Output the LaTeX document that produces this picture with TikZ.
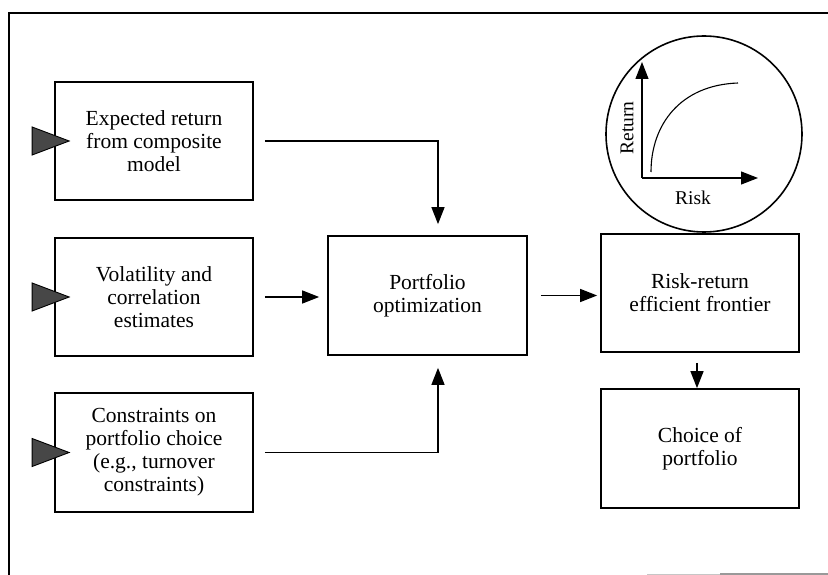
\documentclass[tikz,border=0pt]{standalone}
\usepackage{fontspec}
\setmainfont{Liberation Serif}
\usetikzlibrary{arrows.meta,calc}
\begin{document}
\begin{tikzpicture}[x=1pt,y=-1pt,
  box/.style={draw, line width=1.7pt, inner sep=0pt, align=center,
    minimum width=198pt, minimum height=118pt,
    font=\fontsize{21.5}{23}\selectfont},
  arr/.style={line width=1.3pt, -{Triangle[length=17pt,width=13pt]}},
  axarr/.style={line width=1.2pt, -{Triangle[length=17pt,width=13pt]}},
  intri/.style={draw=black, line width=0.9pt, fill=black!72},
  axlabel/.style={inner sep=0pt, font=\fontsize{19.5}{21}\selectfont},
  frame/.style={line width=1.7pt}]
\useasboundingbox (0,0) rectangle (828,575);

% outer frame (partially visible)
\draw[frame] (9,575) -- (9,13) -- (828,13);
\draw[gray!45, line width=1pt] (647,574) -- (720,574);
\draw[gray!80, line width=1.2pt] (720,574) -- (828,574);

% boxes
\node[box] (b1) at (154,141) {Expected return\\from composite\\model};
\node[box] (b2) at (154,297) {Volatility and\\correlation\\estimates};
\node[box, minimum height=119pt] (b3) at (154,452.5) {Constraints on\\portfolio choice\\(e.g., turnover\\constraints)};
\node[box, minimum width=199pt, minimum height=119pt] (opt) at (427.5,295.5) {Portfolio\\optimization};
\node[box] (eff) at (700,293) {Risk-return\\efficient frontier};
\node[box, minimum height=119pt] (choice) at (700,448.5) {Choice of\\portfolio};

% input triangles
\foreach \b in {b1,b2,b3}{
  \draw[intri] ($(\b.west)+(-22,-14)$) -- ($(\b.west)+(15,0)$) -- ($(\b.west)+(-22,14)$) -- cycle;
}

% connectors
\draw[arr, shorten <=11pt, shorten >=11pt] (b1.east) -| ([xshift=10.5pt]opt.north);
\draw[arr, shorten <=11pt, shorten >=8pt] (b2.east) -- (b2.east -| opt.west);
\draw[arr, shorten <=11pt, shorten >=12pt] (b3.east) -| ([xshift=10.5pt]opt.south);
\draw[arr, shorten <=13pt, shorten >=3pt] (opt.east) -- (opt.east -| eff.west);
\draw[arr, shorten <=10pt] ([xshift=-3pt]eff.south) -- ([xshift=-3pt]choice.north);

% risk-return chart
\node[circle, draw, line width=1.6pt, minimum size=196pt, inner sep=0pt] (chart) at (704,134) {};
\coordinate (org) at (642,178);
\coordinate (ytip) at (642,62);
\coordinate (xtip) at (758,178);
\draw[axarr] (org) -- (ytip);
\draw[axarr] (org) -- (xtip);
\draw[line width=1.1pt] (651,172) .. controls (651,125) and (680,85) .. (738,83);
\node[axlabel, rotate=90] (ret) at (627,128) {Return};
\node[axlabel] (risk) at (693,198) {Risk};
\end{tikzpicture}
\end{document}
